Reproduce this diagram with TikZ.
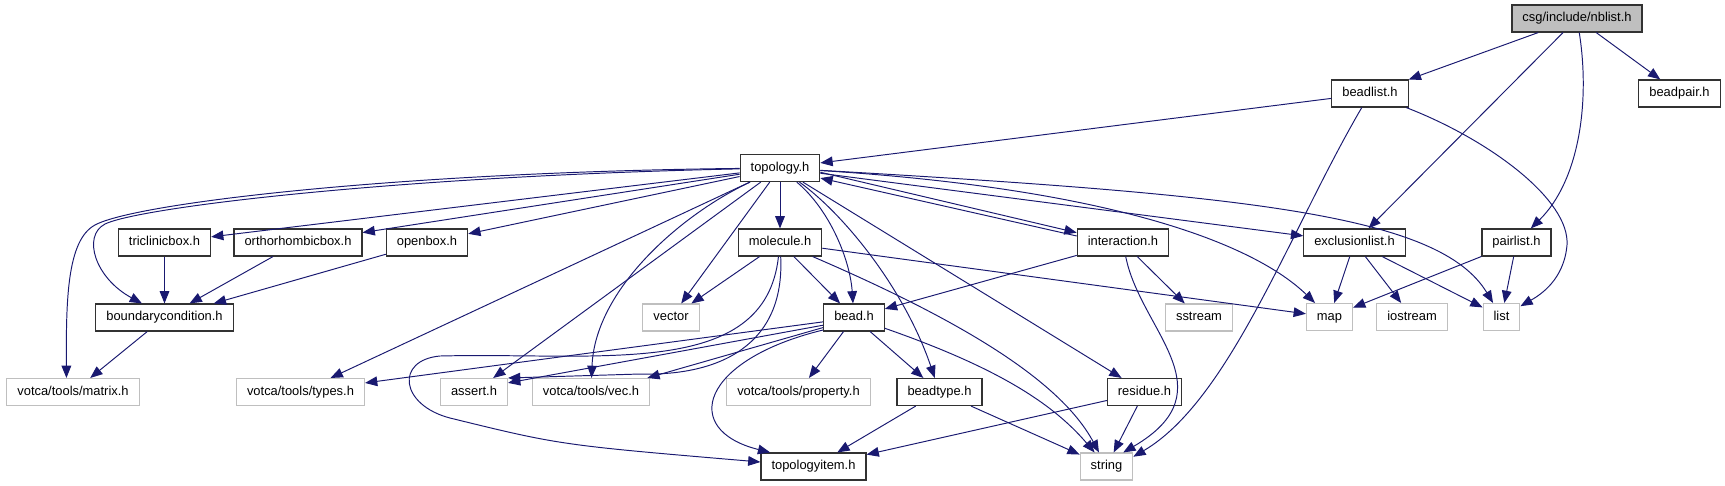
\documentclass[tikz,border=0pt]{standalone}
\usepackage{fontspec}
\setmainfont{Liberation Sans}
\usepackage{xcolor}
\usepackage{tikz}
\usetikzlibrary{arrows.meta}
\definecolor{edgeblue}{RGB}{25, 25, 112}
\definecolor{sysgray}{RGB}{191, 191, 191}
\definecolor{rootgray}{RGB}{191, 191, 191}
\definecolor{boxline}{RGB}{50, 50, 50}

\begin{document}
\begin{tikzpicture}[x=0.02cm, y=-0.02cm, >={Triangle[length=7pt, width=5.5pt]},
    every node/.style={font=\fontsize{7.35}{9}\selectfont, inner xsep=0.21cm, inner ysep=0pt, text height=5.3pt, text depth=1.5pt, minimum height=0.54cm},
    hdr/.style={draw=boxline, line width=0.65pt, fill=white},
    root/.style={hdr, fill=rootgray},
    sys/.style={draw=sysgray, line width=0.6pt, fill=white},
    dep/.style={->, edgeblue, line width=0.55pt}]
        \useasboundingbox (0,0) rectangle (1725,485);

        \node[root] (nbl) at (1577,18.5) {csg/include/nblist.h};
        \node[hdr] (bl) at (1370,93.5) {beadlist.h};
        \node[hdr] (bp) at (1679.5,93.5) {beadpair.h};
        \node[hdr] (topo) at (780,168) {topology.h};
        \node[hdr] (tri) at (164.5,242.5) {triclinicbox.h};
        \node[hdr] (ortho) at (298,242.5) {orthorhombicbox.h};
        \node[hdr] (open) at (427,242.5) {openbox.h};
        \node[hdr] (mol) at (780,242.5) {molecule.h};
        \node[hdr] (inter) at (1123,242.5) {interaction.h};
        \node[hdr] (excl) at (1354.5,242.5) {exclusionlist.h};
        \node[hdr] (pairl) at (1516.5,242.5) {pairlist.h};
        \node[hdr] (bc) at (164.5,317.5) {boundarycondition.h};
        \node[sys] (vector) at (671,317.5) {vector};
        \node[hdr] (bead) at (854,317.5) {bead.h};
        \node[sys] (sstr) at (1199,317.5) {sstream};
        \node[sys] (map) at (1329.5,317) {map};
        \node[sys] (iostr) at (1412,317) {iostream};
        \node[sys] (list) at (1501.5,317) {list};
        \node[sys] (matrix) at (73,392) {votca/tools/matrix.h};
        \node[sys] (types) at (300.5,392) {votca/tools/types.h};
        \node[sys] (assert) at (474,392) {assert.h};
        \node[sys] (vec) at (591,392) {votca/tools/vec.h};
        \node[sys] (prop) at (798.5,392) {votca/tools/property.h};
        \node[hdr] (btype) at (939.5,392) {beadtype.h};
        \node[hdr] (res) at (1144.5,392) {residue.h};
        \node[hdr] (titem) at (813.5,466.5) {topologyitem.h};
        \node[sys] (string) at (1106.5,466.5) {string};

        \draw[dep] (nbl) -- (bl);
        \draw[dep] (nbl) -- (excl);
        \draw[dep] (nbl) .. controls (1590,100) and (1580,180) .. (pairl);
        \draw[dep] (nbl) -- (bp);

        \draw[dep] (bl) -- (topo);
        \draw[dep] (bl) .. controls (1290,230) and (1230,400) .. (string.20);
        \draw[dep] (bl) .. controls (1490,140) and (1570,200) .. (1567,245) .. controls (1564,280) and (1540,295) .. (list);

        \draw[dep] (topo) .. controls (400,172) and (135,203) .. (95,225) .. controls (67,240) and (66,300) .. (matrix.115);
        \draw[dep] (topo) .. controls (400,176) and (140,207) .. (105,224) .. controls (82,236) and (95,278) .. (bc.148);
        \draw[dep] (topo) -- (tri);
        \draw[dep] (topo) -- (ortho);
        \draw[dep] (topo) -- (open);
        \draw[dep] (topo) -- (types);
        \draw[dep] (topo) -- (assert);
        \draw[dep] (topo) .. controls (680,215) and (595,290) .. (vec);
        \draw[dep] (topo) -- (vector);
        \draw[dep] (topo) -- (mol);
        \draw[dep] (topo) .. controls (830,210) and (850,260) .. (bead);
        \draw[dep] (topo) .. controls (845,215) and (905,290) .. (btype);
        \draw[dep] (topo) -- (res);
        \draw[dep] (topo) .. controls (1100,188) and (1250,240) .. (map);
        \draw[dep] (topo) .. controls (1250,195) and (1440,215) .. (list);
        \draw[dep] (topo) -- (excl);
        \draw[dep] (topo.-6) -- (inter.168);
        \draw[dep] (inter.172) -- (topo.-14);

        \draw[dep] (mol) -- (vector);
        \draw[dep] (mol) -- (bead);
        \draw[dep] (mol) -- (map);
        \draw[dep] (mol) .. controls (960,320) and (1060,380) .. (string);
        \draw[dep] (mol) .. controls (765,380) and (600,352) .. (440,356) .. controls (395,360) and (400,405) .. (450,418) .. controls (560,445) .. (titem);
        \draw[dep] (mol) .. controls (785,345) and (720,376) .. (640,374) -- (assert.north east);

        \draw[dep] (bead) -- (prop);
        \draw[dep] (bead) -- (btype);
        \draw[dep] (bead.188) -- (types.8);
        \draw[dep] (bead.194) -- (assert.15);
        \draw[dep] (bead.198) -- (vec.14);
        \draw[dep] (bead.202) .. controls (700,360) and (680,430) .. (titem.162);
        \draw[dep] (bead) .. controls (990,365) and (1050,400) .. (string);

        \draw[dep] (inter) -- (bead);
        \draw[dep] (inter) -- (sstr);
        \draw[dep] (inter) .. controls (1140,330) and (1230,390) .. (string.40);

        \draw[dep] (res) -- (titem);
        \draw[dep] (res) -- (string);
        \draw[dep] (btype) -- (titem);
        \draw[dep] (btype) -- (string);

        \draw[dep] (excl) -- (map);
        \draw[dep] (excl) -- (iostr);
        \draw[dep] (excl) -- (list);
        \draw[dep] (pairl) -- (map);
        \draw[dep] (pairl) -- (list);

        \draw[dep] (tri) -- (bc);
        \draw[dep] (ortho) -- (bc);
        \draw[dep] (open) -- (bc);
        \draw[dep] (bc) -- (matrix);
    \end{tikzpicture}
\end{document}
